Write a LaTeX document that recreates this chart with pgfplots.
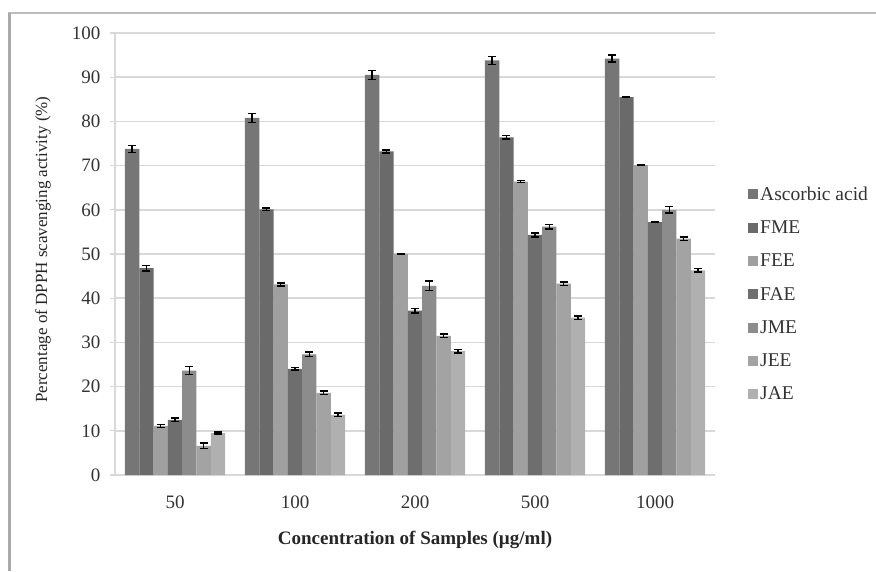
\documentclass[border=0pt]{standalone}
\usepackage{fontspec}
\setmainfont{Liberation Serif}
\usepackage{pgfplots}
\pgfplotsset{compat=1.18}
\usepackage{pgfplotstable}

\definecolor{cAsc}{HTML}{767676}
\definecolor{cFME}{HTML}{6A6A6A}
\definecolor{cFEE}{HTML}{A0A0A0}
\definecolor{cFAE}{HTML}{6E6E6E}
\definecolor{cJME}{HTML}{8C8C8C}
\definecolor{cJEE}{HTML}{A3A3A3}
\definecolor{cJAE}{HTML}{B0B0B0}
\definecolor{gridgray}{HTML}{D9D9D9}
\definecolor{framegray}{HTML}{BDBDBD}

% concentration index, value and error for each sample
\pgfplotstableread{
x  asc  ascE  fme  fmeE  fee  feeE  fae  faeE  jme  jmeE  jee  jeeE  jae  jaeE
0  73.8 0.8   46.8 0.6   11.1 0.3   12.5 0.4   23.6 0.9   6.6  0.6   9.5  0.2
1  80.8 1.0   60.1 0.3   43.1 0.3   24.0 0.3   27.3 0.5   18.6 0.4   13.6 0.4
2  90.5 1.0   73.2 0.3   50.0 0.1   37.2 0.5   42.8 1.1   31.5 0.4   28.0 0.4
3  93.8 0.9   76.4 0.4   66.4 0.2   54.3 0.5   56.2 0.5   43.3 0.4   35.6 0.4
4  94.2 0.8   85.5 0.1   70.1 0.1   57.2 0.1   60.0 0.7   53.5 0.4   46.3 0.4
}\dpph

\begin{document}
\begin{tikzpicture}[x=1pt,y=1pt]
\path[use as bounding box] (0,0) rectangle (876,571);
\draw[framegray, line width=1.5pt] (8,558) -- (876,558);
\draw[framegray!90!black, line width=3pt] (9.5,0) -- (9.5,558);
\begin{axis}[
  at={(115pt,96pt)}, anchor=south west,
  scale only axis, width=600pt, height=442pt,
  ybar=0pt, bar width=14.3pt,
  xmin=-0.5, xmax=4.5, ymin=0, ymax=100,
  ytick={0,10,...,100},
  xtick=data, xticklabels={50,100,200,500,1000},
  axis x line*=bottom, axis y line*=left,
  axis line style={draw=gridgray, line width=1.2pt},
  x axis line style={draw=none},
  xtick style={draw=none},
  ytick style={draw=gridgray, line width=1.2pt},
  tick align=outside, major tick length=5pt,
  ymajorgrids, major grid style={draw=gridgray, line width=1.5pt},
  /pgf/number format/assume math mode=true,
  tick label style={font=\fontsize{19}{21}\selectfont, text=black!80},
  yticklabel style={xshift=-6pt},
  xticklabel style={yshift=-12pt},
  xlabel={\textbf{Concentration of Samples (µg/ml)}},
  xlabel style={at={(axis description cs:0.5,0)}, anchor=center, yshift=-65pt,
    font=\fontsize{19}{21}\selectfont, text=black!85},
  ylabel={Percentage of DPPH scavenging activity (\%)},
  ylabel style={at={(axis description cs:-0.12,0.51)}, anchor=center,
    font=\fontsize{17}{19}\selectfont, text=black!85},
  legend style={at={(1.05,0.662)}, anchor=north west, draw=none, fill=none,
    font=\fontsize{19.5}{21}\selectfont, text=black!80, row sep=15pt},
  legend cell align=left,
  legend image code/.code={\fill[#1] (0pt,-5pt) rectangle (10pt,5pt);},
  error bars/y dir=both, error bars/y explicit,
  error bars/error bar style={black, line width=1.5pt},
  error bars/error mark options={rotate=90, black, mark size=4pt, line width=1.5pt},
]
\addplot[fill=cAsc, draw=none] table[x=x, y=asc, y error=ascE] {\dpph};
\addplot[fill=cFME, draw=none] table[x=x, y=fme, y error=fmeE] {\dpph};
\addplot[fill=cFEE, draw=none] table[x=x, y=fee, y error=feeE] {\dpph};
\addplot[fill=cFAE, draw=none] table[x=x, y=fae, y error=faeE] {\dpph};
\addplot[fill=cJME, draw=none] table[x=x, y=jme, y error=jmeE] {\dpph};
\addplot[fill=cJEE, draw=none] table[x=x, y=jee, y error=jeeE] {\dpph};
\addplot[fill=cJAE, draw=none] table[x=x, y=jae, y error=jaeE] {\dpph};
\legend{Ascorbic acid, FME, FEE, FAE, JME, JEE, JAE}
\end{axis}
\end{tikzpicture}
\end{document}
